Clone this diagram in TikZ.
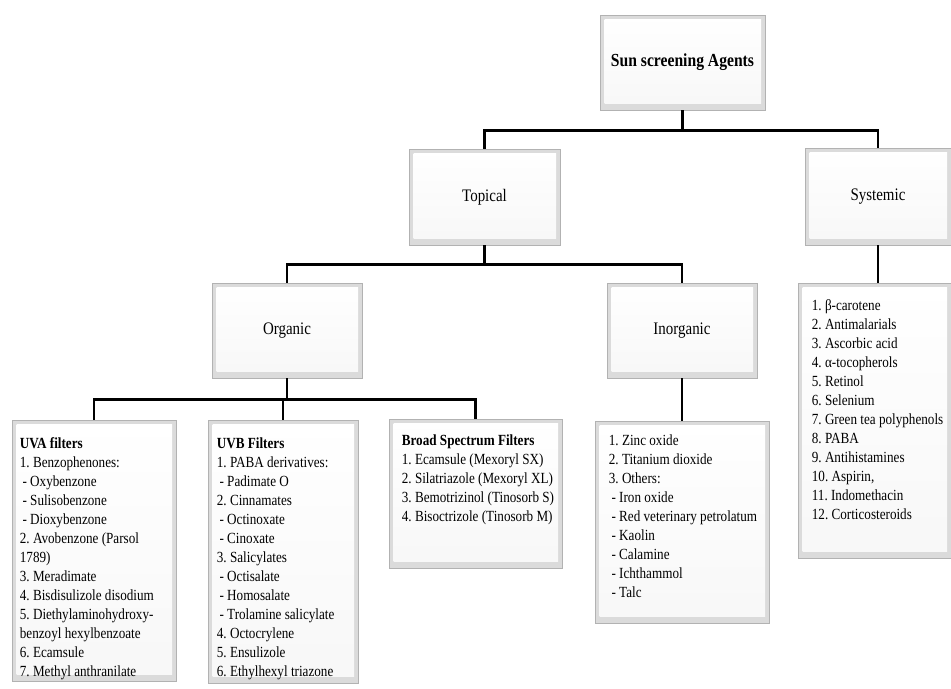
\documentclass[tikz,border=0pt]{standalone}
\usepackage{fontspec}
\setmainfont{Liberation Serif}[FakeStretch=0.85]
\usetikzlibrary{positioning,calc}

\tikzset{
  boxsize/.style 2 args={minimum width=#1*0.75pt, minimum height=#2*0.75pt},
  bevel/.style={draw=gray!60, line width=0.6pt, fill=gray!28, inner sep=0pt,
    path picture={\fill[top color=white, bottom color=gray!6]
      ([shift={(3.5pt,-3pt)}]path picture bounding box.north west)
      rectangle ([shift={(-3pt,5pt)}]path picture bounding box.south east);}},
  catbox/.style={bevel, font=\fontsize{13.2}{16}\selectfont},
  listtext/.style={anchor=north west, inner sep=0pt, align=left, font=\fontsize{11.6}{14.25}\selectfont},
  link/.style={line width=2pt, black},
}
\newcommand\sitem{\hspace*{2pt}- }
\frenchspacing

\begin{document}
\begin{tikzpicture}[x=0.75pt, y=-0.75pt]
\useasboundingbox (0,0) rectangle (951,689);

% category boxes
\node[catbox, boxsize={165}{95}, font=\bfseries\fontsize{13.8}{16}\selectfont] (root) at (682.5,62.5) {Sun screening Agents};
\node[catbox, boxsize={151}{96}] (topical) at (484.5,197) {Topical};
\node[catbox, boxsize={146}{97}] (systemic) at (878,196.5) {Systemic};
\node[catbox, boxsize={150}{95}] (organic) at (287,330.5) {Organic};
\node[catbox, boxsize={150}{95}] (inorganic) at (682,330.5) {Inorganic};

% list boxes
\node[bevel, boxsize={164}{261}] (uva) at (94,550.5) {};
\node[bevel, boxsize={150}{263}] (uvb) at (283,551.5) {};
\node[bevel, boxsize={173}{149}] (broad) at (475.5,493.5) {};
\node[bevel, boxsize={174}{202}] (inolist) at (682,522) {};
\node[bevel, boxsize={153}{275}] (syslist) at (874.5,420.5) {};

\node[listtext] (uvaT) at ([shift={(8,18)}]uva.north west) {\textbf{UVA filters}\\
1. Benzophenones:\\ \sitem Oxybenzone\\ \sitem Sulisobenzone\\ \sitem Dioxybenzone\\
2. Avobenzone (Parsol\\ 1789)\\ 3. Meradimate\\ 4. Bisdisulizole disodium\\
5. Diethylaminohydroxy-\\ benzoyl hexylbenzoate\\ 6. Ecamsule\\ 7. Methyl anthranilate};
\node[listtext] (uvbT) at ([shift={(9,18)}]uvb.north west) {\textbf{UVB Filters}\\
1. PABA derivatives:\\ \sitem Padimate O\\ 2. Cinnamates\\ \sitem Octinoxate\\ \sitem Cinoxate\\
3. Salicylates\\ \sitem Octisalate\\ \sitem Homosalate\\ \sitem Trolamine salicylate\\
4. Octocrylene\\ 5. Ensulizole\\ 6. Ethylhexyl triazone};
\node[listtext] (broadT) at ([shift={(13,16)}]broad.north west) {\textbf{Broad Spectrum Filters}\\
1. Ecamsule (Mexoryl SX)\\ 2. Silatriazole (Mexoryl XL)\\ 3. Bemotrizinol (Tinosorb S)\\
4. Bisoctrizole (Tinosorb M)};
\node[listtext] (inoT) at ([shift={(14,14)}]inolist.north west) {1. Zinc oxide\\ 2. Titanium dioxide\\
3. Others:\\ \sitem Iron oxide\\ \sitem Red veterinary petrolatum\\ \sitem Kaolin\\ \sitem Calamine\\
\sitem Ichthammol\\ \sitem Talc};
\node[listtext] (sysT) at ([shift={(14,17)}]syslist.north west) {1. β-carotene\\ 2. Antimalarials\\
3. Ascorbic acid\\ 4. α-tocopherols\\ 5. Retinol\\ 6. Selenium\\ 7. Green tea polyphenols\\
8. PABA\\ 9. Antihistamines\\ 10. Aspirin,\\ 11. Indomethacin\\ 12. Corticosteroids};

% connectors
\draw[link] (root.south) -- ++(0,20) coordinate (j1);
\draw[link] (topical.north) |- (j1) -| (systemic.north);
\draw[link] (topical.south) -- ++(0,19) coordinate (j2);
\draw[link] (organic.north) |- (j2) -| (inorganic.north);
\draw[link] (organic.south) -- ++(0,21) coordinate (j3);
\draw[link] (uva.north) |- (j3) -| (broad.north);
\draw[link] (uvb.north) -- (uvb.north |- j3);
\draw[link] (inorganic.south) -- (inolist.north);
\draw[link] (systemic.south) -- (systemic.south |- syslist.north);
\end{tikzpicture}
\end{document}
